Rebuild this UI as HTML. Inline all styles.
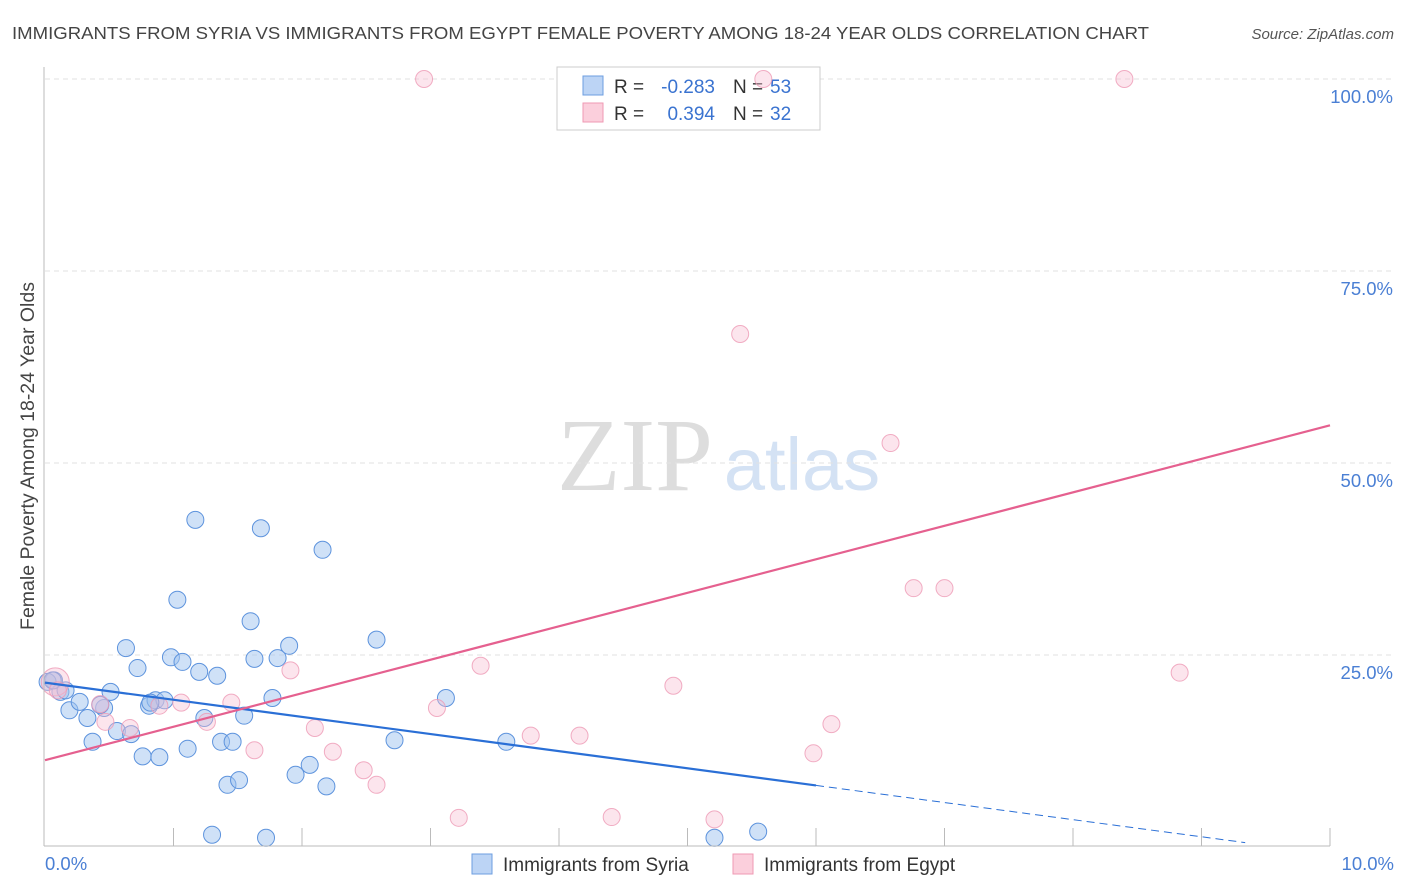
<!DOCTYPE html>
<html><head><meta charset="utf-8"><style>
body{margin:0;background:#fff;font-family:"Liberation Sans",sans-serif}
svg{display:block}
</style></head><body>
<svg id="c" width="1406" height="892">
<text x="12" y="39" font-size="17.5" textLength="1137" lengthAdjust="spacingAndGlyphs" fill="#444">IMMIGRANTS FROM SYRIA VS IMMIGRANTS FROM EGYPT FEMALE POVERTY AMONG 18-24 YEAR OLDS CORRELATION CHART</text>
<text x="1394" y="39" font-size="15" fill="#555" font-style="italic" text-anchor="end">Source: ZipAtlas.com</text>
<g>
<text x="635" y="490" font-size="104" fill="#ddd" font-family="Liberation Serif,serif" text-anchor="middle">ZIP</text>
<text x="802" y="490" font-size="74" fill="#d4e2f4" text-anchor="middle">atlas</text></g>
<g id="grid"></g>
<g>
<rect x="557" y="67" width="263" height="63" fill="#fff" stroke="#ccc"/>
<rect x="583" y="76" width="20" height="19" fill="#bcd4f5" stroke="#6d9ee0"/>
<rect x="583" y="103" width="20" height="19" fill="#fbcfdc" stroke="#ef9ab3"/>
<text x="614" y="93" font-size="19" fill="#333">R =</text>
<text x="715" y="93" font-size="19" fill="#3a73d0" text-anchor="end">-0.283</text>
<text x="733" y="93" font-size="19" fill="#333">N =</text>
<text x="770" y="93" font-size="19" fill="#3a73d0">53</text>
<text x="614" y="120" font-size="19" fill="#333">R =</text>
<text x="715" y="120" font-size="19" fill="#3a73d0" text-anchor="end">0.394</text>
<text x="733" y="120" font-size="19" fill="#333">N =</text>
<text x="770" y="120" font-size="19" fill="#3a73d0">32</text></g>
<g id="marks"></g>
<line x1="44" y1="67" x2="44" y2="846" stroke="#bbb"/>
<line x1="44" y1="846" x2="1330" y2="846" stroke="#bbb"/>
<text x="34" y="456" font-size="19.5" fill="#444" text-anchor="middle" transform="rotate(-90 34 456)">Female Poverty Among 18-24 Year Olds</text>
<text x="45" y="870" font-size="18.5" fill="#4a7fd4">0.0%</text>
<text x="1394" y="870" font-size="18.5" fill="#4a7fd4" text-anchor="end">10.0%</text>
<g>
<rect x="472" y="854" width="20" height="20" fill="#bcd4f5" stroke="#6d9ee0"/>
<text x="503" y="871" font-size="19" fill="#333">Immigrants from Syria</text>
<rect x="733" y="854" width="20" height="20" fill="#fbcfdc" stroke="#ef9ab3"/>
<text x="764" y="871" font-size="19" fill="#333">Immigrants from Egypt</text></g>
</svg>
<script>
const yTicks=[25,50,75,100];
const yTickLabels=["25.0%","50.0%","75.0%","100.0%"];
const xTicks=[1,2,3,4,5,6,7,8,9,10];
const syriaX=[0.07,0.02,0.12,0.16,0.19,0.27,0.33,0.37,0.46,0.51,0.56,0.63,0.67,0.72,0.76,0.81,0.86,0.89,0.93,0.98,1.03,1.07,1.11,1.17,1.20,1.24,1.30,1.34,1.37,1.42,1.46,1.51,1.55,1.60,1.63,1.68,1.72,1.77,1.81,1.90,1.95,2.06,2.16,2.19,2.58,2.72,3.12,3.59,5.21,5.55,0.06,0.43,0.82];
const syriaY=[21.7,21.5,20.2,20.4,17.8,18.9,16.8,13.7,18.1,20.2,15.1,25.9,14.7,23.3,11.8,18.4,19.1,11.7,19.1,24.7,32.2,24.1,12.8,42.6,22.8,16.8,1.6,22.3,13.7,8.1,13.7,8.7,17.1,29.4,24.5,41.5,1.2,19.4,24.6,26.2,9.4,10.7,38.7,7.9,27.0,13.9,19.4,13.7,1.2,2.0,21.7,18.5,18.8];
const egyptX=[0.08,0.10,0.43,0.47,0.66,0.89,1.06,1.26,1.45,1.63,1.91,2.10,2.24,2.48,2.58,2.95,3.05,3.22,3.39,3.78,4.16,4.41,4.89,5.21,5.41,5.59,5.98,6.12,6.58,6.76,7.00,8.40,8.83];
const egyptY=[21.5,20.4,18.6,16.3,15.5,18.4,18.8,16.3,18.8,12.6,23.0,15.5,12.4,10.0,8.1,100,18.1,3.8,23.6,14.5,14.5,3.9,21.0,3.6,66.8,100,12.2,16.0,52.6,33.7,33.7,100,22.7];
const syriaTrend=[21.4,-2.23];
const egyptTrend=[11.3,4.36];
const NS="http://www.w3.org/2000/svg";
const sx=v=>45+v*128.5, sy=v=>847-v*7.68;
function mk(t,a,p){const e=document.createElementNS(NS,t);for(const k in a)e.setAttribute(k,a[k]);p.appendChild(e);return e;}
const grid=document.getElementById('grid'),marks=document.getElementById('marks');
yTicks.forEach((t,i)=>{
 const l=mk('line',{x1:45,x2:1394,y1:sy(t),y2:sy(t),stroke:'#e2e2e2','stroke-dasharray':'5,4'},grid);
 
 
 const tx=mk('text',{x:1393,y:sy(t)+24,'font-size':18.5,fill:'#4a7fd4','text-anchor':'end'},grid);
 tx.textContent=yTickLabels[i];
 
 
});
xTicks.forEach(t=>{
 const l=mk('line',{x1:sx(t),x2:sx(t),y1:828,y2:846,stroke:'#bbb'},grid);
 
 
});
syriaX.forEach((x,i)=>{
 const c=mk('circle',{cx:sx(x),cy:sy(syriaY[i]),r:8.5,fill:'rgba(160,195,240,0.5)',stroke:'#5d93dd','stroke-width':1},marks);
 
 
});
egyptX.forEach((x,i)=>{
 const c=mk('circle',{cx:sx(x),cy:sy(egyptY[i]),r:i==0?14:8.5,fill:'rgba(248,190,210,0.4)',stroke:'rgba(238,154,181,0.8)','stroke-width':1},marks);
 
 
});
const bl=mk('line',{x1:sx(0),y1:sy(syriaTrend[0]),x2:sx(6),y2:sy(syriaTrend[0]+6*syriaTrend[1]),stroke:'#2a6fd6','stroke-width':2.2},marks);


const bd=mk('line',{x1:sx(6),y1:sy(syriaTrend[0]+6*syriaTrend[1]),x2:sx(9.34),y2:sy(syriaTrend[0]+9.34*syriaTrend[1]),stroke:'#2a6fd6','stroke-width':1,'stroke-dasharray':'8,5'},marks);


const pl=mk('line',{x1:sx(0),y1:sy(egyptTrend[0]),x2:sx(10),y2:sy(egyptTrend[0]+10*egyptTrend[1]),stroke:'#e5608f','stroke-width':2.2},marks);


</script>
</body></html>
